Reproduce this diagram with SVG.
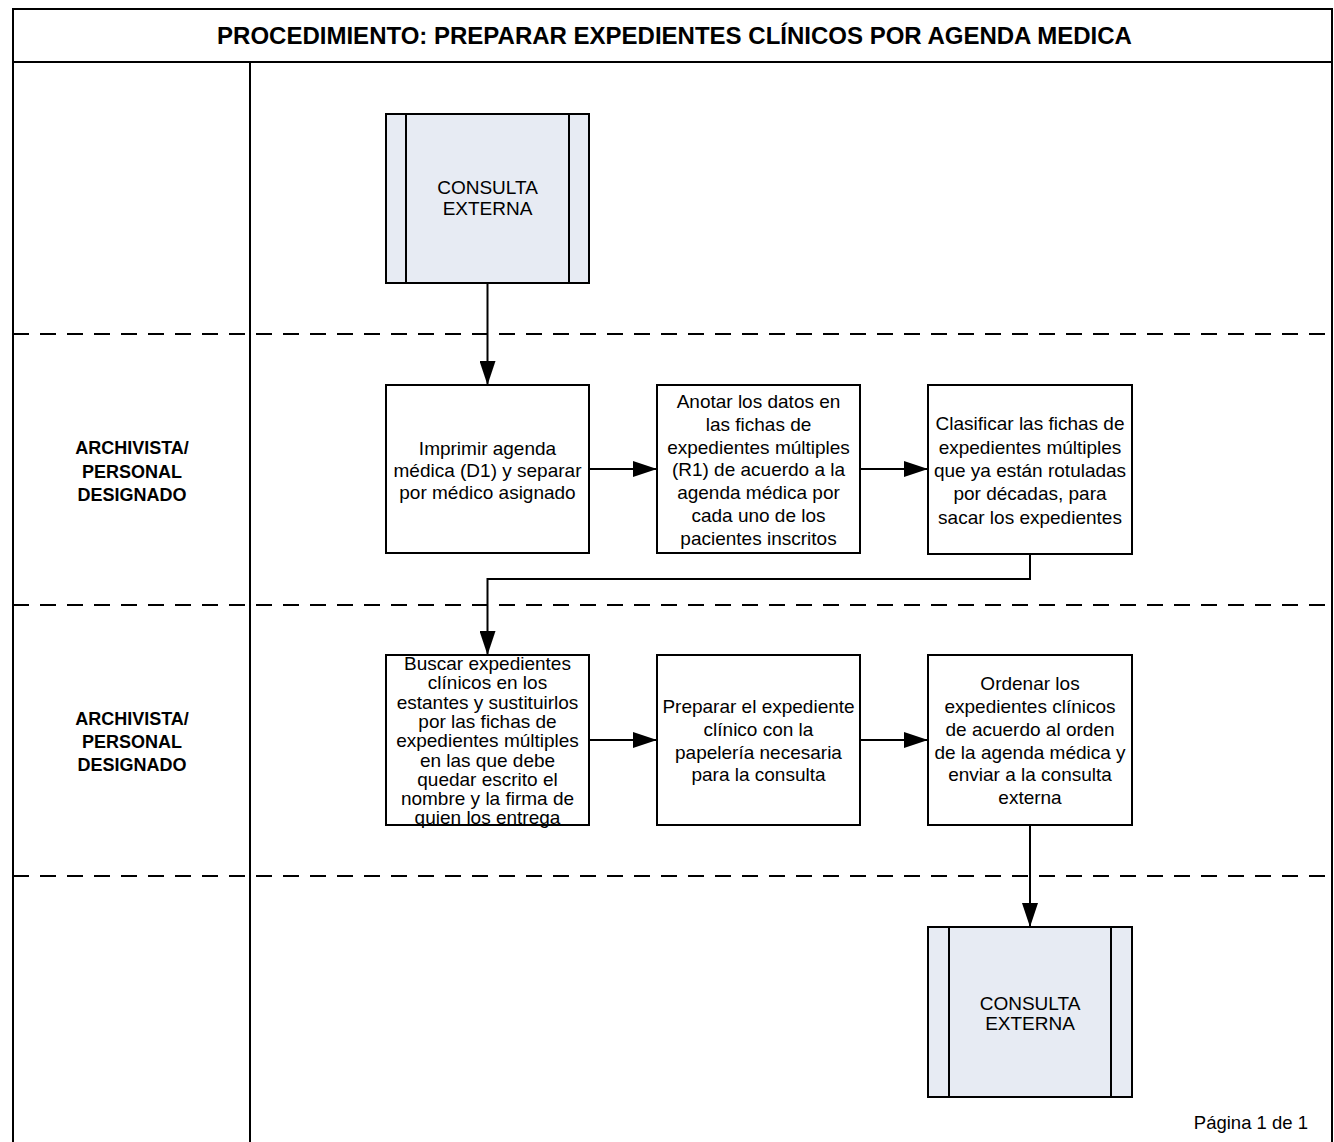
<svg xmlns="http://www.w3.org/2000/svg" width="1334" height="1142" viewBox="0 0 1334 1142">
<style>
.frame{fill:none;stroke:#000;stroke-width:2}
.dash{fill:none;stroke:#000;stroke-width:2;stroke-dasharray:16 11}
.box{fill:#fff;stroke:#000;stroke-width:2}
.sub{fill:#E7EBF3;stroke:#000;stroke-width:2}
.conn{fill:none;stroke:#000;stroke-width:2;marker-end:url(#arr)}
.t{font-family:"Liberation Sans",Arial,sans-serif;font-size:19px;fill:#000;text-anchor:middle}
.lane{font-family:"Liberation Sans",Arial,sans-serif;font-size:18px;font-weight:bold;fill:#000;text-anchor:middle}
.title{font-family:"Liberation Sans",Arial,sans-serif;font-size:24px;font-weight:bold;fill:#000;text-anchor:middle}
</style>
<defs>
<marker id="arr" viewBox="0 0 24 16" refX="24" refY="8" markerWidth="24" markerHeight="16" markerUnits="userSpaceOnUse" orient="auto">
<path d="M0,0 L24,8 L0,16 Z" fill="#000"/>
</marker>
</defs>
<rect width="1334" height="1142" fill="#fff"/>
<g id="frame">
<path class="frame" d="M13,1142 V9 H1332 V1142"/>
<line class="frame" x1="13" y1="62" x2="1332" y2="62"/>
<line class="frame" x1="250" y1="62" x2="250" y2="1142"/>
<line class="dash" x1="13" y1="334" x2="1332" y2="334"/>
<line class="dash" x1="13" y1="605" x2="1332" y2="605"/>
<line class="dash" x1="13" y1="876" x2="1332" y2="876"/>
<text class="title" x="674.5" y="44">PROCEDIMIENTO: PREPARAR EXPEDIENTES CLÍNICOS POR AGENDA MEDICA</text>
</g>
<g id="lane1-label">
<text class="lane" x="132" y="454">ARCHIVISTA/</text>
<text class="lane" x="132" y="477.5">PERSONAL</text>
<text class="lane" x="132" y="500.5">DESIGNADO</text>
</g>
<g id="lane2-label">
<text class="lane" x="132" y="724.5">ARCHIVISTA/</text>
<text class="lane" x="132" y="747.5">PERSONAL</text>
<text class="lane" x="132" y="770.5">DESIGNADO</text>
</g>
<g id="connectors">
<line class="conn" x1="487.5" y1="284" x2="487.5" y2="385"/>
<line class="conn" x1="589" y1="469" x2="657" y2="469"/>
<line class="conn" x1="860" y1="469" x2="928" y2="469"/>
<polyline class="conn" points="1030,554 1030,579 487.5,579 487.5,655"/>
<line class="conn" x1="589" y1="740" x2="657" y2="740"/>
<line class="conn" x1="860" y1="740" x2="928" y2="740"/>
<line class="conn" x1="1030" y1="825" x2="1030" y2="927"/>
</g>
<g id="start">
<rect class="sub" x="386" y="114" width="203" height="169"/>
<line class="frame" x1="406" y1="114" x2="406" y2="283"/>
<line class="frame" x1="569" y1="114" x2="569" y2="283"/>
<text class="t" x="487.5" y="194">CONSULTA</text>
<text class="t" x="487.5" y="215">EXTERNA</text>
</g>
<g id="step1">
<rect class="box" x="386" y="385" width="203" height="168"/>
<text class="t" x="487.5" y="455">Imprimir agenda</text>
<text class="t" x="487.5" y="477">médica (D1) y separar</text>
<text class="t" x="487.5" y="499">por médico asignado</text>
</g>
<g id="step2">
<rect class="box" x="657" y="385" width="203" height="168"/>
<text class="t" x="758.5" y="408">Anotar los datos en</text>
<text class="t" x="758.5" y="431">las fichas de</text>
<text class="t" x="758.5" y="453.5">expedientes múltiples</text>
<text class="t" x="758.5" y="476">(R1) de acuerdo a la</text>
<text class="t" x="758.5" y="499">agenda médica por</text>
<text class="t" x="758.5" y="522">cada uno de los</text>
<text class="t" x="758.5" y="545">pacientes inscritos</text>
</g>
<g id="step3">
<rect class="box" x="928" y="385" width="204" height="169"/>
<text class="t" x="1030" y="430">Clasificar las fichas de</text>
<text class="t" x="1030" y="453.5">expedientes múltiples</text>
<text class="t" x="1030" y="477">que ya están rotuladas</text>
<text class="t" x="1030" y="500">por décadas, para</text>
<text class="t" x="1030" y="523.5">sacar los expedientes</text>
</g>
<g id="step4">
<rect class="box" x="386" y="655" width="203" height="170"/>
<text class="t" x="487.5" y="670">Buscar expedientes</text>
<text class="t" x="487.5" y="689">clínicos en los</text>
<text class="t" x="487.5" y="709">estantes y sustituirlos</text>
<text class="t" x="487.5" y="728">por las fichas de</text>
<text class="t" x="487.5" y="747">expedientes múltiples</text>
<text class="t" x="487.5" y="767">en las que debe</text>
<text class="t" x="487.5" y="786">quedar escrito el</text>
<text class="t" x="487.5" y="805">nombre y la firma de</text>
<text class="t" x="487.5" y="824">quien los entrega</text>
</g>
<g id="step5">
<rect class="box" x="657" y="655" width="203" height="170"/>
<text class="t" x="758.5" y="713">Preparar el expediente</text>
<text class="t" x="758.5" y="736">clínico con la</text>
<text class="t" x="758.5" y="759">papelería necesaria</text>
<text class="t" x="758.5" y="781">para la consulta</text>
</g>
<g id="step6">
<rect class="box" x="928" y="655" width="204" height="170"/>
<text class="t" x="1030" y="690">Ordenar los</text>
<text class="t" x="1030" y="713">expedientes clínicos</text>
<text class="t" x="1030" y="736">de acuerdo al orden</text>
<text class="t" x="1030" y="758.5">de la agenda médica y</text>
<text class="t" x="1030" y="781">enviar a la consulta</text>
<text class="t" x="1030" y="804">externa</text>
</g>
<g id="end">
<rect class="sub" x="928" y="927" width="204" height="170"/>
<line class="frame" x1="949" y1="927" x2="949" y2="1097"/>
<line class="frame" x1="1111" y1="927" x2="1111" y2="1097"/>
<text class="t" x="1030" y="1009.5">CONSULTA</text>
<text class="t" x="1030" y="1030">EXTERNA</text>
</g>
<g id="footer">
<text class="t" x="1308" y="1129" style="text-anchor:end;font-size:18.5px">Página 1 de 1</text>
</g>
</svg>
